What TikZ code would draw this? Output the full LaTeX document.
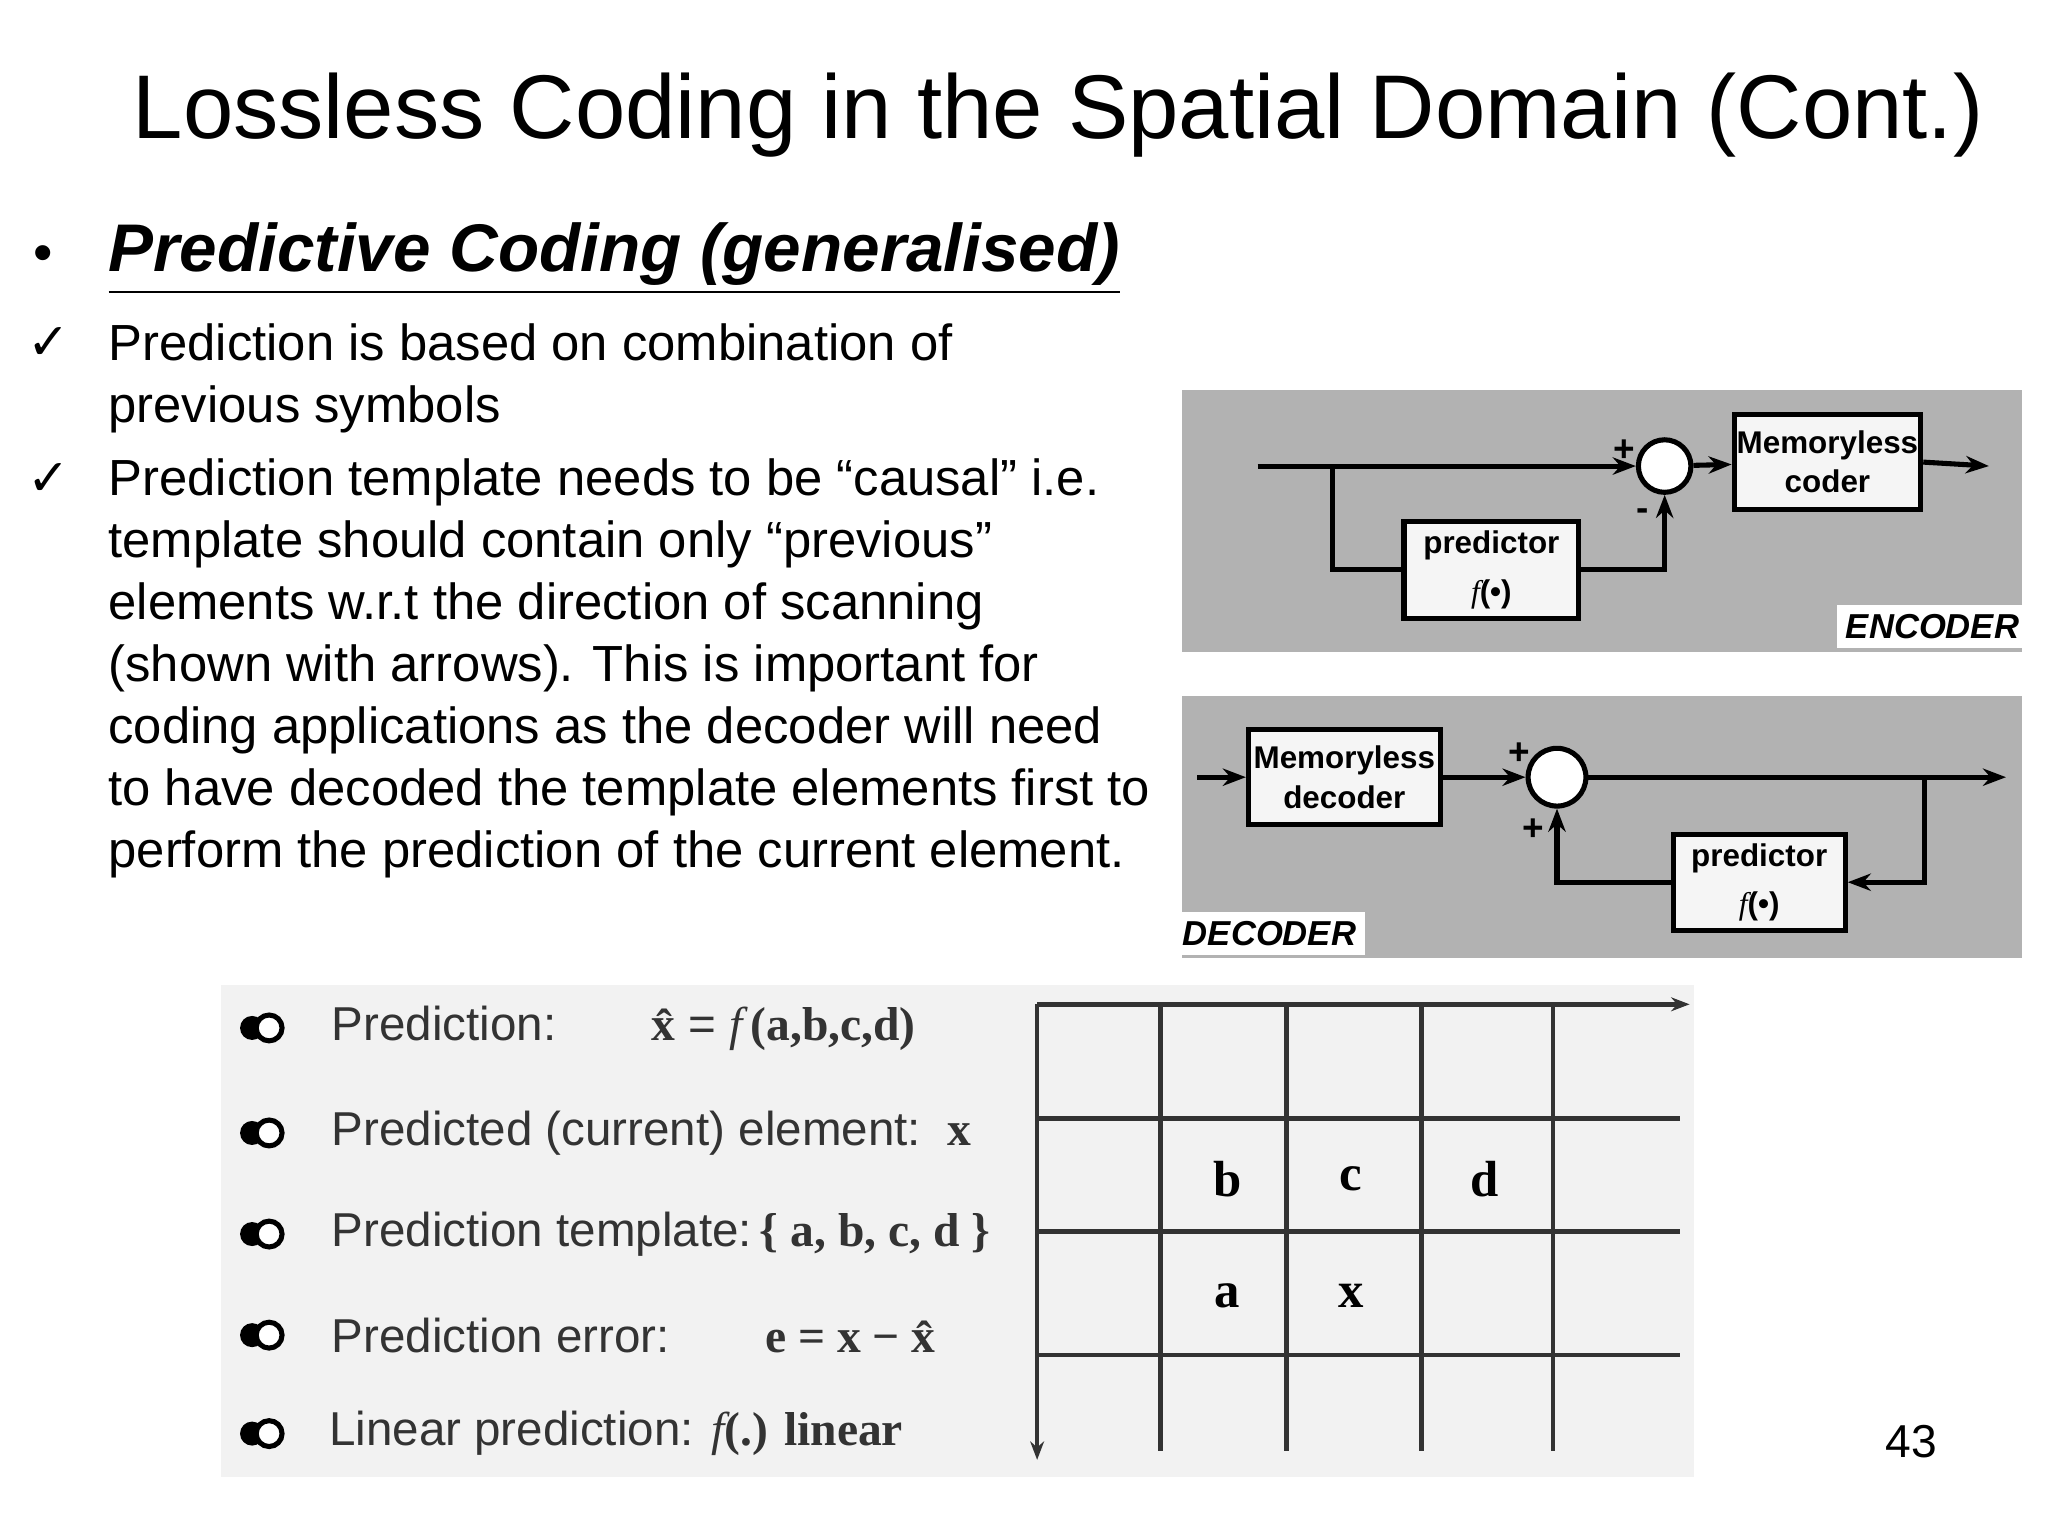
\documentclass[tikz,border=0pt]{standalone}
\usepackage{fontspec}
\setmainfont{Liberation Sans}
\newfontfamily\dejavu{DejaVu Sans}
\newfontfamily\serifb{Liberation Serif}
\usetikzlibrary{arrows.meta}
\newcommand{\serbold}[1]{{\serifb\bfseries #1}}
\begin{document}
\begin{tikzpicture}[x=0.01cm,y=-0.01cm,
  blk/.style={draw=black,line width=1.1pt,fill=white!92!gray,font=\bfseries\fontsize{6.8}{8.5}\selectfont,align=center,inner sep=0pt},
  ln/.style={line width=1.1pt},
  ar/.style={line width=1.1pt,-{Stealth[length=5pt]}},
  circ/.style={circle,draw,line width=1.1pt,fill=white,minimum size=0.4cm,inner sep=0pt},
  tag/.style={fill=white,font=\bfseries\itshape\fontsize{7.5}{9}\selectfont,inner sep=2pt},
  body/.style={font=\fontsize{11}{13.4}\selectfont,anchor=north west,align=left,inner sep=0pt},
  bl/.style={font=\fontsize{10.3}{12}\selectfont\color{black!80},anchor=west,inner sep=0pt},
  gl/.style={line width=1pt,black!80},
  cell/.style={font=\serifb\bfseries\fontsize{11}{13}\selectfont,inner sep=0pt}]
\useasboundingbox (0,0) rectangle (1560,1170);
\fill[white] (0,0) rectangle (1560,1170);
% title
\node (title) at (806,88) {\fontsize{19.6}{24}\selectfont Lossless Coding in the Spatial Domain (Cont.)};
\node (dot) at (33,197) {\fontsize{12}{14}\selectfont\textbullet};
\node[anchor=west,inner sep=0pt] (head) at (82,197) {\fontsize{14.6}{17}\selectfont\bfseries\itshape\underline{Predictive Coding (generalised)}};
\node (ck1) at (37,262) {\dejavu\fontsize{11}{13}\selectfont ✓};
\node (ck2) at (37,365) {\dejavu\fontsize{11}{13}\selectfont ✓};
\node[body] (t1) at (82,246) {Prediction is based on combination of\\previous symbols};
\node[body] (t2) at (82,349) {Prediction template needs to be “causal” i.e.\\template should contain only “previous”\\elements w.r.t the direction of scanning\\(shown with arrows). This is important for\\coding applications as the decoder will need\\to have decoded the template elements first to\\perform the prediction of the current element.};
% encoder
\fill[gray!60] (900,297) rectangle (1540,497);
\node[circ] (ec) at (1268,355) {};
\node[blk,minimum width=1.42cm,minimum height=0.72cm] (mc) at (1392,352) {Memoryless\\coder};
\node[blk,minimum width=1.33cm,minimum height=0.74cm] (ep) at (1136,434) {predictor\\[2pt]{\serifb\itshape\mdseries f}(\textbullet)};
\coordinate (ein) at (958,355);
\coordinate (eb) at (1015,355);
\coordinate (eout) at (1515,355);
\draw[ar] (ein) -- (ec);
\draw[ln] (eb) |- (ep.west);
\draw[ar] (ep.east) -| (ec.south);
\draw[ar] (ec) -- (mc);
\draw[ar] (mc.east) -- (eout);
\node[font=\bfseries\fontsize{8}{9}\selectfont] (ep1) at (1237,343) {+};
\node[font=\bfseries\fontsize{8}{9}\selectfont] (em1) at (1251,392) {-};
\node[tag] (enc) at (1472,477) {ENCODER};
% decoder
\fill[gray!60] (900,530) rectangle (1540,730);
\node[circ,minimum size=0.44cm] (dc) at (1186,592) {};
\node[blk,minimum width=1.46cm,minimum height=0.72cm] (md) at (1024,592) {Memoryless\\decoder};
\node[blk,minimum width=1.31cm,minimum height=0.73cm] (dp) at (1340,672) {predictor\\[2pt]{\serifb\itshape\mdseries f}(\textbullet)};
\coordinate (din) at (912,592);
\coordinate (db) at (1466,592);
\coordinate (dout) at (1528,592);
\draw[ar] (din) -- (md);
\draw[ar] (md) -- (dc);
\draw[ar] (dc) -- (dout);
\draw[ar] (db) |- (dp.east);
\draw[ar] (dp.west) -| (dc.south);
\node[font=\bfseries\fontsize{8}{9}\selectfont] (dp1) at (1157,574) {+};
\node[font=\bfseries\fontsize{8}{9}\selectfont] (dp2) at (1168,632) {+};
\node[tag] (dec) at (967,711) {DECODER};
% bottom panel
\fill[black!5] (168,750) rectangle (1290,1125);
\foreach \y in {783,863,940,1017,1092}{
  \fill (192,\y) circle (2.6pt);
  \draw[line width=1.1pt,fill=white] (205,\y) circle (2.8pt);
}
\node[bl] (p1) at (252,783) {Prediction:\qquad \serbold{x̂} = {\serifb\itshape f\,}\serbold{(a,b,c,d)}};
\node[bl] (p2) at (252,863) {Predicted (current) element:\ \ \serbold{x}};
\node[bl] (p3) at (252,940) {Prediction template:\,\serbold{\{ a, b, c, d \}}};
\node[bl] (p4) at (252,1017) {Prediction error:\qquad\serbold{e = x − x̂}};
\node[bl] (p5) at (250,1092) {Linear prediction: {\serifb\itshape f}\serbold{(.) linear}};
% grid
\coordinate (g0) at (790,765);
\coordinate (gr) at (1287,765);
\coordinate (gd) at (790,1112);
\draw[gl,-{Stealth[length=4pt]}] (g0) -- (gr);
\draw[gl,-{Stealth[length=4pt]}] (g0) -- (gd);
\foreach \x in {884,980,1083,1183} \draw[gl] (\x,765) -- (\x,1105);
\foreach \y in {852,938,1032} \draw[gl] (790,\y) -- (1280,\y);
\node[cell] (cb) at (935,898) {b};
\node[cell] (cc) at (1029,898) {c};
\node[cell] (cd) at (1131,898) {d};
\node[cell] (ca) at (935,987) {a};
\node[cell] (cx) at (1029,987) {x};
\node (pg) at (1456,1098) {\fontsize{10}{12}\selectfont 43};
\end{tikzpicture}
\end{document}
